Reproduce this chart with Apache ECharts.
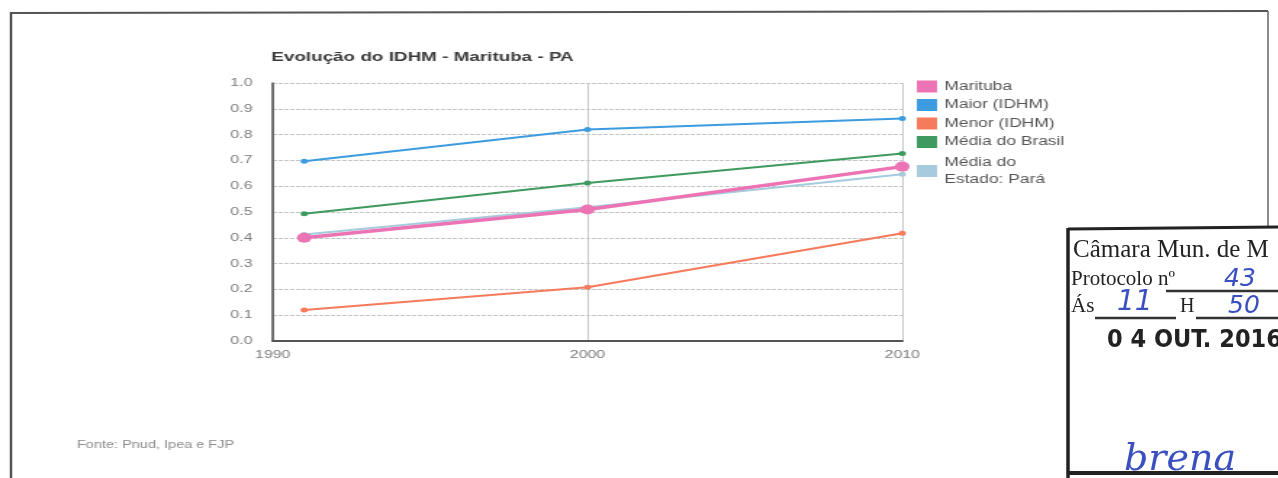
<!DOCTYPE html>
<html>
<head>
<meta charset="utf-8">
<script src="https://cdn.jsdelivr.net/npm/echarts@6/dist/echarts.min.js"></script>
<style>
  html, body { margin: 0; padding: 0; background: #fff; overflow: hidden; }
  #wrap { position: relative; width: 1278px; height: 478px; }
  /* o gráfico escaneado está esticado na horizontal */
  #chart { position: absolute; left: 0; top: 0; width: 881px; height: 478px; transform: scaleX(1.4506); transform-origin: 0 0; }
  #paper { position: absolute; left: 0; top: 0; width: 1278px; height: 478px; pointer-events: none; }
</style>
</head>
<body>
<div id="wrap">
  <div id="chart"></div>
  <div id="paper"></div>
</div>
<script>
// anos e valores do IDHM
const years = [1991, 2000, 2010]
const marituba = [0.400, 0.510, 0.676]
const maior = [0.697, 0.820, 0.862]
const menor = [0.120, 0.208, 0.418]
const mediaBrasil = [0.493, 0.612, 0.727]
const mediaPara = [0.413, 0.518, 0.646]

const seriesNames = ['Marituba', 'Maior (IDHM)', 'Menor (IDHM)', 'Média do Brasil', 'Média do\nEstado: Pará']
const seriesColors = ['#ec74b4', '#3d9be0', '#f67a5c', '#3e9a5f', '#a6cbdc']

const pairs = (vals) => years.map((y, i) => [y, vals[i]])
const font = 'Liberation Sans, Arial, sans-serif'

const mkLine = (idx, vals, opts) => Object.assign({
  name: seriesNames[idx],
  type: 'line',
  data: pairs(vals),
  symbol: 'circle',
  symbolSize: 5,
  color: seriesColors[idx],
  lineStyle: { width: 2, color: seriesColors[idx] },
  itemStyle: { color: seriesColors[idx] },
  animation: false
}, opts || {})

const chart = echarts.init(document.getElementById('chart'))
chart.setOption({
  backgroundColor: 'transparent',
  textStyle: { fontFamily: font },
  title: {
    text: 'Evolução do IDHM - Marituba - PA',
    left: 187,
    top: 51,
    padding: 0,
    textStyle: { fontSize: 13, fontWeight: 'bold', color: '#3a3a3a' }
  },
  legend: {
    orient: 'vertical',
    left: 632,
    top: 80,
    padding: 0,
    icon: 'rect',
    itemWidth: 14,
    itemHeight: 12,
    itemGap: 5.5,
    data: seriesNames.map((n, i) => i === 4 ? { name: n, textStyle: { lineHeight: 17 } } : n),
    textStyle: { fontSize: 12, color: '#555', lineHeight: 13 }
  },
  grid: { left: 188, right: 259, top: 83, bottom: 137 },
  xAxis: {
    type: 'value',
    min: 1990,
    max: 2010,
    interval: 10,
    axisLine: { show: true, lineStyle: { color: '#555', width: 2 } },
    axisTick: { show: false },
    splitLine: { show: true, lineStyle: { color: '#c8c8c8', width: 1 } },
    axisLabel: { color: '#7a7a7a', fontSize: 11, margin: 8, formatter: v => String(v) }
  },
  yAxis: {
    type: 'value',
    min: 0,
    max: 1,
    interval: 0.1,
    axisLine: { show: true, lineStyle: { color: '#555', width: 1.6 } },
    axisTick: { show: false },
    splitLine: { show: true, lineStyle: { color: '#c4c4c4', width: 1, type: [3, 1] } },
    axisLabel: { color: '#7a7a7a', fontSize: 11, margin: 14, formatter: v => v.toFixed(1) }
  },
  series: [
    mkLine(4, mediaPara, { z: 2 }),
    mkLine(1, maior, { z: 3 }),
    mkLine(2, menor, { z: 3 }),
    mkLine(3, mediaBrasil, { z: 3 }),
    mkLine(0, marituba, { z: 5, symbolSize: 10, lineStyle: { width: 3.5, color: seriesColors[0] } })
  ],
  graphic: [
    {
      type: 'text', left: 53, top: 440,
      style: { text: 'Fonte: Pnud, Ipea e FJP', fontSize: 10, fill: '#8a8a8a', fontFamily: font }
    }
  ]
})

// moldura da folha e carimbo (sem esticar)
const serif = 'Liberation Serif, serif'
const hand = '#3a4fc0'
const paper = echarts.init(document.getElementById('paper'))
paper.setOption({
  backgroundColor: 'transparent',
  graphic: [
    { type: 'line', shape: { x1: 10, y1: 13, x2: 1268, y2: 11 }, style: { stroke: '#555', lineWidth: 2 } },
    { type: 'line', shape: { x1: 11, y1: 12, x2: 11, y2: 478 }, style: { stroke: '#555', lineWidth: 2.5 } },
    { type: 'line', shape: { x1: 1268, y1: 11, x2: 1268, y2: 226 }, style: { stroke: '#666', lineWidth: 1.5 } },
    { type: 'line', shape: { x1: 1068, y1: 229, x2: 1278, y2: 227 }, style: { stroke: '#222', lineWidth: 3 } },
    { type: 'line', shape: { x1: 1068, y1: 228, x2: 1068, y2: 478 }, style: { stroke: '#222', lineWidth: 3.5 } },
    { type: 'line', shape: { x1: 1068, y1: 473, x2: 1278, y2: 473 }, style: { stroke: '#222', lineWidth: 4 } },
    { type: 'text', left: 1073, top: 238, style: { text: 'Câmara Mun. de M', fontSize: 25, fill: '#222', fontFamily: serif } },
    { type: 'text', left: 1071, top: 269, style: { text: 'Protocolo nº', fontSize: 21, fill: '#222', fontFamily: serif } },
    { type: 'line', shape: { x1: 1166, y1: 291, x2: 1278, y2: 291 }, style: { stroke: '#333', lineWidth: 2.5 } },
    { type: 'text', left: 1224, top: 267, style: { text: '43', fontSize: 25, fill: hand, fontStyle: 'italic', fontFamily: 'DejaVu Sans, sans-serif' } },
    { type: 'text', left: 1071, top: 296, style: { text: 'Ás', fontSize: 21, fill: '#222', fontFamily: serif } },
    { type: 'line', shape: { x1: 1095, y1: 318, x2: 1176, y2: 318 }, style: { stroke: '#333', lineWidth: 2.5 } },
    { type: 'text', left: 1117, top: 289, style: { text: '11', fontSize: 28, fill: hand, fontStyle: 'italic', fontFamily: 'DejaVu Sans, sans-serif' } },
    { type: 'text', left: 1180, top: 297, style: { text: 'H', fontSize: 20, fill: '#222', fontFamily: serif } },
    { type: 'line', shape: { x1: 1196, y1: 318, x2: 1278, y2: 318 }, style: { stroke: '#333', lineWidth: 2.5 } },
    { type: 'text', left: 1228, top: 294, style: { text: '50', fontSize: 25, fill: hand, fontStyle: 'italic', fontFamily: 'DejaVu Sans, sans-serif' } },
    { type: 'text', left: 1107, top: 328, style: { text: '0 4 OUT. 2016', fontSize: 25, fontWeight: 'bold', fill: '#222', fontFamily: 'Liberation Sans Narrow, DejaVu Sans Condensed, sans-serif' } },
    { type: 'text', left: 1124, top: 441, style: { text: 'brena', fontSize: 38, fill: hand, fontStyle: 'italic', fontFamily: 'DejaVu Serif, serif' } }
  ]
})
</script>
</body>
</html>
